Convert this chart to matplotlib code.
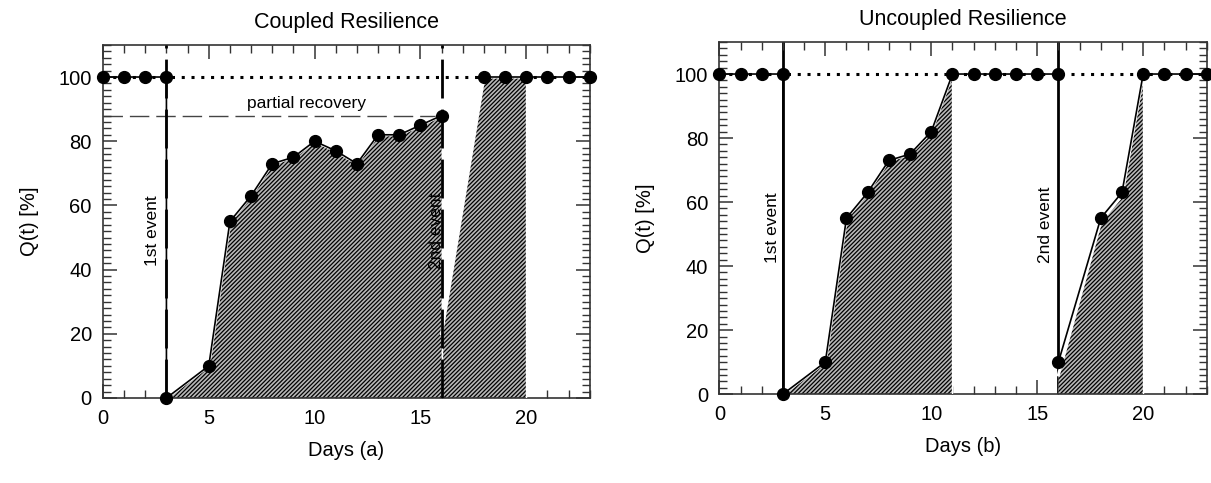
import numpy as np
import matplotlib
matplotlib.use("Agg")
import matplotlib.pyplot as plt
from matplotlib.ticker import MultipleLocator

plt.rcParams.update({
    "font.family": ["Liberation Sans", "DejaVu Sans"],
    "hatch.linewidth": 0.9,
})

# ── data ─────────────────────────────────────────────────────────────────────
# (a) coupled resilience
days_a1 = [0, 1, 2, 3, 3, 5, 6, 7, 8, 9, 10, 11, 12, 13, 14, 15, 16]
q_a1 = [100, 100, 100, 100, 0, 10, 55, 63, 73, 75, 80, 77, 73, 82, 82, 85, 88]
days_a2 = [18, 19, 20, 21, 22, 23]
q_a2 = [100, 100, 100, 100, 100, 100]
fill_a1_x = [3, 5, 6, 7, 8, 9, 10, 11, 12, 13, 14, 15, 16]
fill_a1_y = [0, 10, 55, 63, 73, 75, 80, 77, 73, 82, 82, 85, 88]
fill_a2_x = [16, 18, 20]
fill_a2_y = [20, 100, 100]
partial_level = 88

# (b) uncoupled resilience
days_b1 = [0, 1, 2, 3, 3, 5, 6, 7, 8, 9, 10, 11, 12, 13, 14, 15, 16]
q_b1 = [100, 100, 100, 100, 0, 10, 55, 63, 73, 75, 82, 100, 100, 100, 100, 100, 100]
days_b2 = [16, 18, 19, 20, 21, 22, 23]
q_b2 = [10, 55, 63, 100, 100, 100, 100]
fill_b1_x = [3, 5, 6, 7, 8, 9, 10, 11]
fill_b1_y = [0, 10, 55, 63, 73, 75, 82, 100]
fill_b2_x = [16, 18, 19, 20]
fill_b2_y = [6, 54, 62, 100]

events = [3, 16]

FS_TICK, FS_LAB, FS_TITLE, FS_NOTE = 14.5, 14.5, 15.5, 12.5
GRAY = "#b8b8b8"


def style_axes(ax):
    ax.set_xlim(0, 23)
    ax.set_ylim(0, 110)
    ax.xaxis.set_major_locator(MultipleLocator(5))
    ax.xaxis.set_minor_locator(MultipleLocator(1))
    ax.yaxis.set_major_locator(MultipleLocator(20))
    ax.yaxis.set_minor_locator(MultipleLocator(2))
    ax.tick_params(which="both", direction="in", top=True, right=True,
                   labelsize=FS_TICK, color="#333333")
    ax.tick_params(which="major", length=10, width=1.1, pad=8)
    ax.tick_params(which="minor", length=5.5, width=1.0)
    for sp in ax.spines.values():
        sp.set_linewidth(1.2)
        sp.set_color("#333333")
    ax.set_ylabel("Q(t) [%]", fontsize=FS_LAB, labelpad=14)


def hatched(ax, x, y):
    x = list(x); y = list(y)
    ax.fill_between(x, 0, y, facecolor=GRAY, hatch="////////", edgecolor="black",
                    linewidth=0, zorder=2)
    ax.plot(x, y, color="white", lw=2.2, zorder=3)
    ax.plot([x[-1], x[-1]], [0, y[-1]], color="white", lw=1.0, zorder=3)


def curve(ax, x, y):
    ax.plot(x, y, "-o", color="black", lw=1.2, ms=8.5, zorder=5, clip_on=False)


fig = plt.figure(figsize=(12.11, 4.83), dpi=100)
ax1 = fig.add_axes([0.085, 0.176, 0.402, 0.731])
ax2 = fig.add_axes([0.594, 0.184, 0.4025, 0.729])

# ── (a) coupled ──────────────────────────────────────────────────────────────
style_axes(ax1)
ax1.axhline(100, color="black", ls=(0, (1, 2.2)), lw=2.2, zorder=1)
ax1.plot([0, events[1]], [partial_level, partial_level], color="#444444",
         lw=1.0, dashes=(14, 5), zorder=1)
hatched(ax1, fill_a1_x, fill_a1_y)
hatched(ax1, fill_a2_x, fill_a2_y)
for e in events:
    ax1.axvline(e, color="black", lw=2.0, dashes=(14, 4), zorder=4)
curve(ax1, days_a1, q_a1)
curve(ax1, days_a2, q_a2)
ax1.text(9.6, 89.5, "partial recovery", ha="center", va="bottom", fontsize=FS_NOTE)
ax1.text(2.35, 52, "1st event", rotation=90, ha="center", va="center", fontsize=FS_NOTE)
ax1.text(15.75, 52, "2nd event", rotation=90, ha="center", va="center",
         fontsize=FS_NOTE, zorder=6)
ax1.set_xlabel("Days (a)", fontsize=FS_LAB, labelpad=9)
ax1.set_title("Coupled Resilience", fontsize=FS_TITLE, pad=12)

# ── (b) uncoupled ────────────────────────────────────────────────────────────
style_axes(ax2)
ax2.axhline(100, color="black", ls=(0, (1, 2.2)), lw=2.2, zorder=1)
for e in events:
    ax2.axvline(e, color="black", lw=2.0, zorder=1)
hatched(ax2, fill_b1_x, fill_b1_y)
hatched(ax2, fill_b2_x, fill_b2_y)
curve(ax2, days_b1, q_b1)
curve(ax2, days_b2, q_b2)
ax2.text(2.5, 52, "1st event", rotation=90, ha="center", va="center", fontsize=FS_NOTE)
ax2.text(15.4, 53, "2nd event", rotation=90, ha="center", va="center", fontsize=FS_NOTE)
ax2.set_xlabel("Days (b)", fontsize=FS_LAB, labelpad=9)
ax2.set_title("Uncoupled Resilience", fontsize=FS_TITLE, pad=12)

fig.savefig("out.png", dpi=100, facecolor="white")
